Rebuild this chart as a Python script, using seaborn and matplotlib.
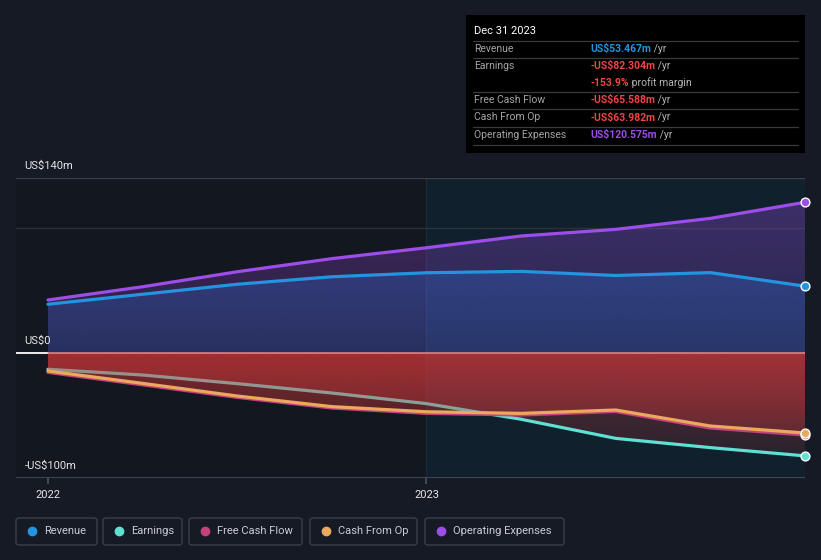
import numpy as np
import pandas as pd
import matplotlib
matplotlib.use("Agg")
import matplotlib.pyplot as plt
from matplotlib.patches import FancyBboxPatch, Rectangle
from matplotlib.text import Annotation
import seaborn as sns

# ---------------- data (US$ m, trailing twelve months, quarterly) ----------------
quarters = ["Dec 2021", "Mar 2022", "Jun 2022", "Sep 2022", "Dec 2022",
            "Mar 2023", "Jun 2023", "Sep 2023", "Dec 2023"]
revenue = [39.0, 47.0, 55.0, 61.0, 64.2, 65.3, 62.0, 64.3, 53.467]
earnings = [-13.0, -17.6, -24.5, -32.0, -40.5, -53.0, -68.3, -75.7, -82.304]
free_cash_flow = [-15.5, -25.5, -35.5, -44.0, -48.3, -49.6, -46.8, -60.0, -65.588]
cash_from_op = [-14.4, -24.3, -34.4, -42.9, -47.0, -48.3, -45.6, -58.4, -63.982]
operating_expenses = [42.4, 53.0, 65.0, 75.5, 84.2, 93.6, 98.9, 107.7, 120.575]
year_ticks = [0, 4]
year_labels = ["2022", "2023"]
y_tick_vals = [140, 0, -100]
y_tick_labels = ["US$140m", "US$0", "-US$100m"]

series_names = ["Revenue", "Earnings", "Free Cash Flow", "Cash From Op", "Operating Expenses"]
colors = {
    "Revenue": "#2394df",
    "Earnings": "#5ee0d3",
    "Free Cash Flow": "#c4407e",
    "Cash From Op": "#eaa95c",
    "Operating Expenses": "#9d4ee8",
}
values = {
    "Revenue": revenue,
    "Earnings": earnings,
    "Free Cash Flow": free_cash_flow,
    "Cash From Op": cash_from_op,
    "Operating Expenses": operating_expenses,
}
q = np.arange(len(quarters))
df = pd.concat([pd.DataFrame({"q": q, "value": values[n], "series": n}) for n in series_names])

# ---------------- style ----------------
BG = "#151a24"
sns.set_theme(style="dark")
plt.rcParams["font.family"] = ["Roboto", "DejaVu Sans"]

fig = plt.figure(figsize=(8.21, 5.6), dpi=100, facecolor=BG)
W, H = 821, 560
ax = fig.add_axes([16 / W, 1 - 478 / H, (805 - 16) / W, (478 - 178) / H])
ax.set_facecolor("#13171f")
for s in ax.spines.values():
    s.set_visible(False)

XMIN, XMAX = -32 / 379 * 4, 8.0
YMIN, YMAX = -100, 140
data_start_frac = (q[0] - XMIN) / (XMAX - XMIN)

# highlighted period (last year)
ax.axvspan(4, XMAX, color="#11202d", zorder=0, lw=0)
ax.axvline(4, color="#1c2a38", lw=1, zorder=0.5)

# grid lines
ax.axhline(140, color="#3b4048", lw=1, zorder=0.6)
ax.axhline(100, color="#2c313a", lw=1, zorder=0.6)
ax.axhline(-100, color="#4a4f58", lw=1.2, zorder=0.6)
ax.axhline(0, xmin=0, xmax=data_start_frac, color="#ffffff", lw=1.3, zorder=1.5)
ax.axhline(0, xmin=data_start_frac, xmax=1, color="#e88a8a", lw=1.1, zorder=3.5)


def gradient_fill(xv, yv, color, a_far, a_near, zorder):
    poly = ax.fill_between(xv, yv, 0, facecolor="none", edgecolor="none")
    path = poly.get_paths()[0]
    rgb = matplotlib.colors.to_rgb(color)
    n = 256
    if max(yv) > 0:
        lo, hi = 0, YMAX
        alpha = np.linspace(a_near, a_far, n)
    else:
        lo, hi = YMIN, 0
        alpha = np.linspace(a_far, a_near, n)
    img = np.zeros((n, 2, 4))
    img[..., 0], img[..., 1], img[..., 2] = rgb
    img[..., 3] = alpha[:, None]
    im = ax.imshow(img, extent=[XMIN, XMAX, lo, hi], origin="lower",
                   aspect="auto", zorder=zorder, interpolation="bilinear")
    im.set_clip_path(path, transform=ax.transData)


gradient_fill(q, operating_expenses, "#9d4ee8", 0.34, 0.16, 1)
gradient_fill(q, revenue, "#2d6fd8", 0.42, 0.22, 1.1)
gradient_fill(q, earnings, "#d83a3c", 0.06, 0.40, 1.2)
gradient_fill(q, free_cash_flow, "#d83a3c", 0.06, 0.32, 3)
gradient_fill(q, cash_from_op, "#d83a3c", 0.06, 0.32, 3.1)

# lines
zorders = {"Revenue": 2.2, "Earnings": 2.0, "Free Cash Flow": 4.0,
           "Cash From Op": 4.1, "Operating Expenses": 2.3}
for n in series_names:
    sub = df[df.series == n]
    sns.lineplot(data=sub, x="q", y="value", ax=ax, color=colors[n], lw=2.3,
                 zorder=zorders[n], legend=False)
    ax.scatter(sub.q.iloc[-1], sub.value.iloc[-1], s=40, color=colors[n],
               edgecolor="white", linewidth=1.0, zorder=6, clip_on=False)

ax.set_xlim(XMIN, XMAX)
ax.set_ylim(YMIN, YMAX)
ax.set_xlabel("")
ax.set_ylabel("")
ax.set_yticks([])
ax.set_xticks(year_ticks)
ax.set_xticklabels(year_labels, color="#e6e6e6", fontsize=8)
ax.tick_params(axis="x", length=4, color="#4a4f58", pad=5, bottom=True)

# y labels inside plot
for v, lab in zip(y_tick_vals, y_tick_labels):
    ax.annotate(lab, xy=(0, v), xycoords=("axes fraction", "data"),
                xytext=(6, 5), textcoords="offset points", color="#e6e6e6",
                fontsize=8, va="bottom", ha="left", zorder=7)


# ---------------- tooltip box ----------------
def fx(px):
    return px / W


def fy(py):
    return 1 - py / H


fig.patches.append(Rectangle((fx(466), fy(153)), fx(805) - fx(466), fy(15) - fy(153),
                             transform=fig.transFigure, facecolor="#000000",
                             edgecolor="none", zorder=5))
fig.text(fx(474), fy(31), "Dec 31 2023", color="#ffffff", fontsize=8,
         va="center", ha="left", zorder=6)
for sy in [41, 58, 92, 109, 126.5, 145]:
    fig.add_artist(plt.Line2D([fx(473), fx(798)], [fy(sy), fy(sy)],
                              transform=fig.transFigure, color="#3a3a3a",
                              lw=0.9, zorder=6))
RED = "#f04545"
GREY = "#a5a5a5"
rows = [
    (49, "Revenue", "US$53.467m", colors["Revenue"], " /yr"),
    (66, "Earnings", "-US$82.304m", RED, " /yr"),
    (83, "", "-153.9%", RED, " profit margin"),
    (100, "Free Cash Flow", "-US$65.588m", RED, " /yr"),
    (117.5, "Cash From Op", "-US$63.982m", RED, " /yr"),
    (135, "Operating Expenses", "US$120.575m", colors["Operating Expenses"], " /yr"),
]
for py, lab, val, vc, suffix in rows:
    if lab:
        fig.text(fx(474), fy(py), lab, color=GREY, fontsize=7.5, va="center",
                 ha="left", zorder=6)
    t = fig.text(fx(590), fy(py), val, color=vc, fontsize=7.5, va="center",
                 ha="left", zorder=6, fontweight="bold")
    fig.add_artist(Annotation(
        suffix, xy=(1, 0.5), xycoords=t, xytext=(0, 0), textcoords="offset points",
        color="#b5b5b5", fontsize=7.5, va="center", ha="left", zorder=6))

# ---------------- legend ----------------
legend_items = [
    ("Revenue", 16, 97),
    ("Earnings", 103, 182),
    ("Free Cash Flow", 189, 302),
    ("Cash From Op", 310, 417),
    ("Operating Expenses", 425, 564),
]
for name, x0, x1 in legend_items:
    fig.patches.append(FancyBboxPatch((fx(x0), fy(545)), fx(x1) - fx(x0), fy(518) - fy(545),
                                      boxstyle="round,pad=0,rounding_size=0.004",
                                      transform=fig.transFigure, facecolor="none",
                                      edgecolor="#3a3f4a", lw=1.0))
    fig.add_artist(plt.Line2D([fx(x0 + 16)], [fy(531)], marker="o", markersize=6,
                              color=colors[name], transform=fig.transFigure, lw=0))
    fig.text(fx(x0 + 28), fy(531), name, color="#c9ccd2", fontsize=8,
             va="center", ha="left")

fig.savefig("out.png", dpi=100, facecolor=BG)
